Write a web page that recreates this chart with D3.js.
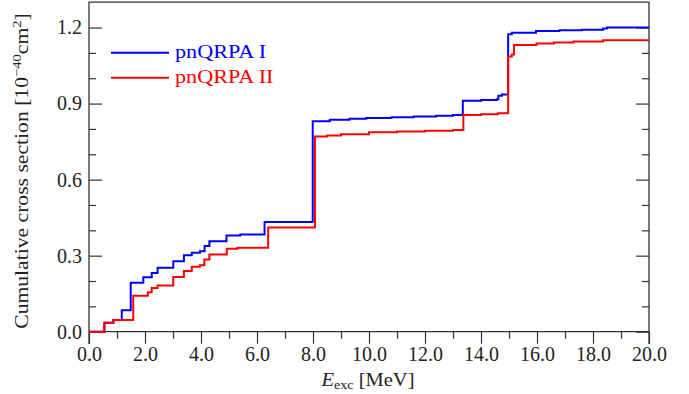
<!DOCTYPE html>
<html>
<head>
<meta charset="utf-8">
<script src="https://cdn.jsdelivr.net/npm/d3@7"></script>
<style>
  html, body { margin: 0; padding: 0; background: #fff; }
  svg { display: block; }
  text { font-family: "Liberation Serif", "DejaVu Serif", serif; fill: #222; }
</style>
</head>
<body>
<svg id="chart" width="689" height="394"></svg>
<script>
// Excitation energies (MeV) where the cumulative sum steps up, and the value from that point on
const energyI = [0, 0.55, 0.87, 1.17, 1.49, 1.94, 2.24, 2.45, 3.01, 3.39, 3.67, 3.96, 4.13, 4.30, 4.91, 5.4,
  6.27, 7.99, 8.6, 9.3, 9.9, 10.8, 11.6, 12.4, 13.0, 13.35, 14.0, 14.56, 14.62, 14.75, 14.97, 15.1,
  15.96, 16.8, 17.6, 18.36, 18.5, 20.0];
const crossI = [0, 0.035, 0.046, 0.085, 0.193, 0.215, 0.232, 0.252, 0.278, 0.302, 0.311, 0.317, 0.338, 0.357, 0.380, 0.383,
  0.433, 0.830, 0.836, 0.840, 0.843, 0.846, 0.849, 0.852, 0.855, 0.911, 0.914, 0.917, 0.931, 0.936, 1.174, 1.179,
  1.186, 1.189, 1.191, 1.196, 1.200, 1.200];

const energyII = [0, 0.55, 0.87, 1.58, 2.10, 2.24, 2.45, 3.01, 3.39, 3.67, 3.96, 4.12, 4.30, 4.92, 5.3,
  6.40, 8.07, 8.5, 9.0, 10.0, 11.0, 12.0, 13.0, 13.37, 14.0, 14.6, 14.97, 15.1, 15.18,
  15.98, 16.6, 17.3, 18.36, 20.0];
const crossII = [0, 0.035, 0.046, 0.142, 0.156, 0.172, 0.182, 0.216, 0.239, 0.256, 0.262, 0.285, 0.305, 0.327, 0.331,
  0.411, 0.770, 0.774, 0.779, 0.787, 0.790, 0.793, 0.796, 0.855, 0.858, 0.862, 1.086, 1.094, 1.131,
  1.137, 1.141, 1.145, 1.150, 1.150];

const seriesNames = ["pnQRPA I", "pnQRPA II"];
const seriesColors = ["#0000ff", "#ff0000"];

const xMajor = [0, 2, 4, 6, 8, 10, 12, 14, 16, 18, 20];
const xMinor = [1, 3, 5, 7, 9, 11, 13, 15, 17, 19];
const yMajor = [0, 0.3, 0.6, 0.9, 1.2];
const yMinor = [0.1, 0.2, 0.4, 0.5, 0.7, 0.8, 1.0, 1.1];

const svg = d3.select("#chart");
const x = d3.scaleLinear().domain([0, 20]).range([89, 649]);
const y = d3.scaleLinear().domain([0, 1.3]).range([331.7, 2.2]);
const axisColor = "#333";
const frameBottom = 344;
const stretch = 1.17; // widen the serif face horizontally

// frame: left, top, right
const frame = svg.append("g").attr("stroke", axisColor).attr("stroke-width", 1.3).attr("fill", "none");
frame.append("path").attr("d", `M${x(0)},${frameBottom}V${y(1.3)}H${x(20)}V${frameBottom}`);

function styleAxis(g) {
  g.select(".domain").remove();
  g.selectAll(".tick line").attr("stroke", axisColor).attr("stroke-width", 1.2);
  g.selectAll(".tick text").attr("font-family", "Liberation Serif, serif").attr("font-size", 20).attr("fill", "#222");
}

// x axis along zero, ticks hanging below
svg.append("g").attr("transform", `translate(0,${y(0)})`)
  .call(d3.axisBottom(x).tickValues(xMajor).tickSize(12).tickPadding(3).tickFormat(d3.format(".1f")))
  .call(styleAxis);
svg.append("g").attr("transform", `translate(0,${y(0)})`)
  .call(d3.axisBottom(x).tickValues(xMinor).tickSize(7).tickFormat(""))
  .call(styleAxis);
svg.append("line").attr("x1", x(0)).attr("x2", x(20)).attr("y1", y(0)).attr("y2", y(0))
  .attr("stroke", axisColor).attr("stroke-width", 1.3);

// y axis, ticks pointing inward
svg.append("g").attr("transform", `translate(${x(0)},0)`)
  .call(d3.axisLeft(y).tickValues(yMajor).tickSizeInner(-13).tickSizeOuter(0).tickPadding(7).tickFormat(d3.format(".1f")))
  .call(styleAxis);
svg.append("g").attr("transform", `translate(${x(0)},0)`)
  .call(d3.axisLeft(y).tickValues(yMinor).tickSizeInner(-7).tickSizeOuter(0).tickFormat(""))
  .call(styleAxis);
svg.append("g").attr("transform", `translate(${x(20)},0)`)
  .call(d3.axisRight(y).tickValues(yMajor).tickSizeInner(-13).tickSizeOuter(0).tickFormat(""))
  .call(styleAxis);
svg.append("g").attr("transform", `translate(${x(20)},0)`)
  .call(d3.axisRight(y).tickValues(yMinor).tickSizeInner(-7).tickSizeOuter(0).tickFormat(""))
  .call(styleAxis);

// step curves
const line = d3.line().x(d => x(d[0])).y(d => y(d[1])).curve(d3.curveStepAfter);
const series = [d3.zip(energyI, crossI), d3.zip(energyII, crossII)];
series.forEach((pts, i) => {
  svg.append("path").datum(pts).attr("d", line)
    .attr("fill", "none").attr("stroke", seriesColors[i]).attr("stroke-width", 2)
    .attr("stroke-linejoin", "miter");
});

// legend
const legendY = [52.7, 77.7];
seriesNames.forEach((name, i) => {
  svg.append("line").attr("x1", 111).attr("x2", 169).attr("y1", legendY[i]).attr("y2", legendY[i])
    .attr("stroke", seriesColors[i]).attr("stroke-width", 2);
  svg.append("text").attr("transform", `translate(175,${legendY[i] + 5.5}) scale(${stretch},1)`)
    .attr("font-size", 19).style("fill", seriesColors[i]).text(name);
});

// axis titles
const xt = svg.append("text").attr("transform", `translate(368,386) scale(1.08,1)`)
  .attr("text-anchor", "middle").attr("font-size", 19);
xt.append("tspan").attr("font-style", "italic").text("E");
xt.append("tspan").attr("font-size", 13).attr("dy", 3).text("exc");
xt.append("tspan").attr("dy", -3).text(" [MeV]");

const yt = svg.append("text").attr("transform", `translate(28,171) rotate(-90) scale(${stretch},1)`)
  .attr("text-anchor", "middle").attr("font-size", 18.5);
yt.append("tspan").text("Cumulative cross section [10");
yt.append("tspan").attr("font-size", 12.5).attr("dy", -7).text("−40");
yt.append("tspan").attr("dy", 7).text("cm");
yt.append("tspan").attr("font-size", 12.5).attr("dy", -7).text("2");
yt.append("tspan").attr("dy", 7).text("]");
</script>
</body>
</html>
